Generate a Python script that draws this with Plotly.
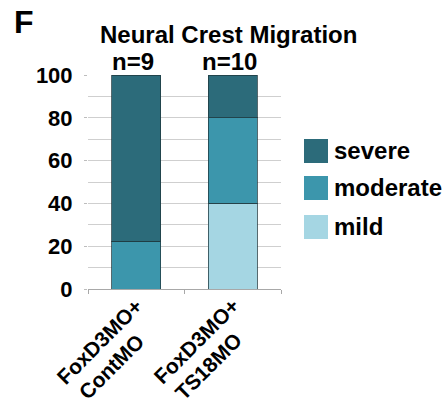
import plotly.graph_objects as go

# Neural crest migration phenotypes (% of embryos) per injection
categories = ["FoxD3MO+<br>ContMO", "FoxD3MO+<br>TS18MO"]
n_counts = ["n=9", "n=10"]
mild = [0, 40]
moderate = [22.2, 40]
severe = [77.8, 20]
y_ticks = [0, 20, 40, 60, 80, 100]

colors = {"severe": "#2c6b7a", "moderate": "#3c96ac", "mild": "#a5d6e3"}
FONT = "Liberation Sans, Arial, Helvetica, sans-serif"

# plot area in pixels
L, R, T, B = 88, 281, 75, 289
W, H = R - L, B - T

fig = go.Figure()
for name, vals in [("mild", mild), ("moderate", moderate), ("severe", severe)]:
    fig.add_trace(go.Bar(
        x=categories, y=vals, name=name,
        marker=dict(color=colors[name], line=dict(color="rgba(30,55,62,0.75)", width=1)),
        width=0.51, showlegend=False,
    ))

fig.update_layout(
    barmode="stack",
    width=447, height=404,
    margin=dict(l=L, r=447 - R, t=T, b=404 - B),
    paper_bgcolor="white", plot_bgcolor="white",
    font=dict(family=FONT, color="black"),
)

fig.update_yaxes(
    range=[0, 100], tickvals=y_ticks,
    showgrid=True, gridcolor="#cfcfcf", gridwidth=1,
    minor=dict(dtick=10, showgrid=True, gridcolor="#cfcfcf", gridwidth=1),
    ticks="outside", ticklen=3, tickcolor="#bdbdbd",
    ticklabelstandoff=7,
    tickfont=dict(size=22, family=FONT, weight="bold", color="black"),
    showline=False, zeroline=False,
)
fig.update_xaxes(
    type="category",
    categoryorder="array", categoryarray=categories,
    range=[-0.5, len(categories) - 0.5], autorange=False,
    showticklabels=False,
    tickson="boundaries",
    ticks="outside", ticklen=4, tickcolor="#a8a8a8",
    showline=True, linecolor="#a8a8a8", linewidth=1,
)

# Rotated category labels: each line placed by its centre below the bar
line_offsets = [(-37, 341), (-25, 366)]  # (x shift from bar centre, y centre) in px
for i, cat in enumerate(categories):
    for part, (dx, yc) in zip(cat.split("<br>"), line_offsets):
        fig.add_annotation(text=part, x=i, y=(B - yc) / H, xref="x", yref="paper",
                           textangle=-45, showarrow=False,
                           xanchor="center", yanchor="middle", xshift=dx,
                           font=dict(size=21, family=FONT, weight="bold"))

# Panel letter and title
fig.add_annotation(text="F", x=(12 - L) / W, y=(B - 22) / H, xref="paper", yref="paper",
                   showarrow=False, xanchor="left", yanchor="middle",
                   font=dict(size=32, family=FONT, weight="bold"))
fig.add_annotation(text="Neural Crest Migration", x=(228 - L) / W, y=(B - 35) / H,
                   xref="paper", yref="paper", showarrow=False,
                   xanchor="center", yanchor="middle",
                   font=dict(size=24, family=FONT, weight="bold"))
for i, label in enumerate(n_counts):
    fig.add_annotation(text=label, x=i, y=(B - 61) / H, xref="x", yref="paper",
                       showarrow=False, xanchor="center", yanchor="middle", xshift=-3,
                       font=dict(size=24, family=FONT, weight="bold"))

# Legend drawn as swatches beside the plot
legend_items = [("severe", 151), ("moderate", 188), ("mild", 227)]
for name, yc in legend_items:
    fig.add_shape(type="rect", xref="paper", yref="paper",
                  x0=(304 - L) / W, x1=(328 - L) / W,
                  y0=(B - (yc + 12)) / H, y1=(B - (yc - 12)) / H,
                  fillcolor=colors[name], line=dict(width=0))
    fig.add_annotation(text=name, x=(332 - L) / W, y=(B - yc + 1) / H,
                       xref="paper", yref="paper", showarrow=False,
                       xanchor="left", yanchor="middle",
                       font=dict(size=24, family=FONT, weight="bold"))

fig.write_html("out.html")
